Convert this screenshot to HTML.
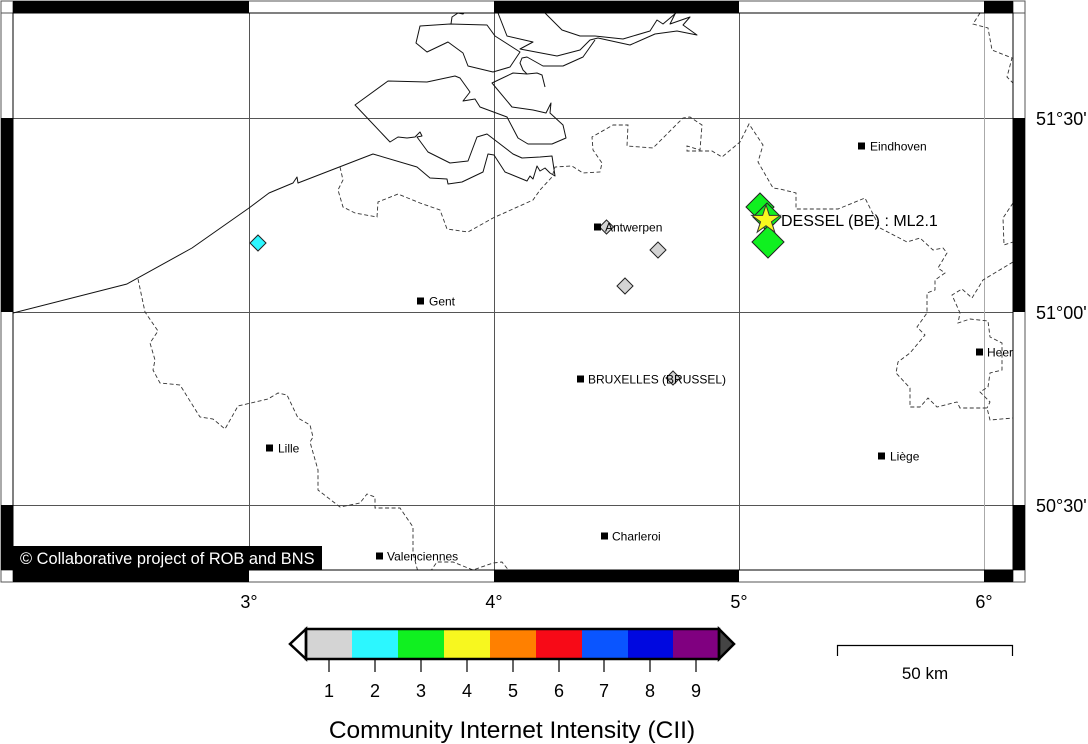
<!DOCTYPE html>
<html>
<head>
<meta charset="utf-8">
<style>
  html,body{margin:0;padding:0;background:#fff;}
  svg{display:block;}
  text{font-family:"Liberation Sans",Arial,sans-serif;}
</style>
</head>
<body>
<svg width="1088" height="744" viewBox="0 0 1088 744" xmlns="http://www.w3.org/2000/svg">
  <defs>
    <clipPath id="mapclip"><rect x="13" y="13" width="1000" height="557"/></clipPath>
  </defs>
  <rect x="0" y="0" width="1088" height="744" fill="#fff"/>

  <!-- map content -->
  <g clip-path="url(#mapclip)">
    <!-- grid -->
    <g stroke="#555" stroke-width="1" shape-rendering="crispEdges" fill="none">
      <line x1="249.5" y1="13" x2="249.5" y2="570"/>
      <line x1="494.5" y1="13" x2="494.5" y2="570"/>
      <line x1="739.5" y1="13" x2="739.5" y2="570"/>
      <line x1="13" y1="118.5" x2="1013" y2="118.5"/>
      <line x1="13" y1="312.5" x2="1013" y2="312.5"/>
      <line x1="13" y1="505.5" x2="1013" y2="505.5"/>
    </g>
    <line x1="984.5" y1="13" x2="984.5" y2="570" stroke="#aaa" stroke-width="1.2" shape-rendering="crispEdges"/>

    <!-- coastlines -->
    <g fill="none" stroke="#111" stroke-width="1" stroke-linejoin="round">
      <path d="M13,313 L127,284 L192,248 L249,208 L269,193 L293,183 L297,177 L298,183 L360,159 L373,154 L417,167 L430,178 L447,179 L448,184 L462,182 L483,172 L488,154 L494,155 L505,172 L527,181 L530,176 L533,179 L537,166 L540,171 L545,168 L550,173 L555,176 L552,156 L540,157 L522,158 L513,154 L487,134 L477,137 L468,161 L450,163 L428,152 L417,137 L422,136 L420,132 L415,137 L407,138 L398,137 L390,142 L355,105 L388,81 L427,82 L455,76 L460,78 L470,92 L463,101 L475,99 L480,107 L507,117 L518,138 L528,144 L552,144 L566,138 L563,125 L550,113 L551,103 L546,113 L533,110 L512,107 L492,83 L513,73 L527,74 L537,73 L542,75 L545,87"/>
      <path d="M420,26 L450,24 L487,25 L495,36 L520,52 L510,67 L493,72 L468,66 L463,53 L448,42 L427,52 L416,43 Z"/>
      <path d="M451,24 L452,17 L458,13 L463,14 L465,12"/>
      <path d="M545,13 L562,30 L580,36 L595,36 L623,39 L650,31 L657,20 L663,24 L676,13"/>
      <path d="M498,13 L507,36 L533,42 L520,49 L557,56 L580,50 L590,40 L598,38 L630,45 L655,34 L677,31 L697,35 L683,25 L690,17 L670,24 L675,14"/>
      <path d="M527,74 L523,70 L520,63 L522,58 L527,57 L543,66 L563,66 L583,57 L595,40"/>
    </g>

    <!-- borders (dashed) -->
    <g fill="none" stroke="#333" stroke-width="0.9" stroke-dasharray="4,2.5">
      <path d="M340,167 L343,180 L338,190 L343,207 L355,213 L377,217 L378,202 L398,194 L420,203 L440,210 L443,218 L447,229 L468,232 L493,218 L533,200 L540,190 L552,177 L555,167 L572,166 L583,173 L600,172 L602,163 L593,150 L592,137 L613,125 L628,125 L627,146 L653,148 L683,118 L690,117 L702,125 L700,150 L687,146 L687,151 L712,151 L722,157 L740,142 L749,124 L763,145 L758,162 L773,188 L780,189 L796,193 L796,209 L838,209 L865,198 L880,228 L907,242 L920,238 L933,250 L943,248 L947,253 L938,268 L945,273 L935,280 L935,290 L927,293 L927,313 L917,327 L925,335 L910,353 L898,362 L896,373 L910,388 L910,407 L920,407 L928,398 L937,407 L957,402 L960,408 L987,408 L990,420 L1013,418"/>
      <path d="M1013,262 L983,280 L972,298 L962,289 L952,295 L960,313 L958,323 L970,319 L988,321 L990,337 L1002,343 L1002,370 L990,373 L988,387 L980,392 L990,402 L987,408"/>
      <path d="M980,13 L973,24 L988,28 L992,50 L1012,58 L1007,77 L1013,83"/>
      <path d="M1013,203 L1003,218 L1004,245 L1013,242"/>
      <path d="M138,279 L145,312 L158,331 L150,343 L155,360 L153,370 L160,383 L180,385 L200,417 L213,419 L225,429 L238,406 L268,399 L278,393 L287,395 L298,418 L310,425 L313,437 L310,442 L318,470 L318,490 L340,507 L360,503 L367,494 L375,497 L375,508 L400,508 L413,527 L413,553 L418,572"/>
      <path d="M430,572 L437,562 L453,562 L473,570 L493,563 L502,562 L510,572"/>
    </g>

    <!-- intensity markers (under city labels) -->
    <g stroke="#222" stroke-width="1">
      <path d="M258,235 L266,243 L258,251 L250,243 Z" fill="#2cf7ff"/>
      <path d="M606.5,220 L613.5,227 L606.5,234 L599.5,227 Z" fill="#d4d4d4"/>
      <path d="M658,242 L666,250 L658,258 L650,250 Z" fill="#d4d4d4"/>
      <path d="M625,278 L633,286 L625,294 L617,286 Z" fill="#d4d4d4"/>
      <path d="M673,371 L680,378 L673,385 L666,378 Z" fill="#d4d4d4"/>
    </g>

    <!-- cities -->
    <g fill="#000" font-size="12">
      <rect x="858" y="142.5" width="7" height="7"/><text x="870" y="150.5">Eindhoven</text>
      <rect x="594" y="223.5" width="7" height="7"/><text x="605" y="231.5">Antwerpen</text>
      <rect x="417" y="297.5" width="7" height="7"/><text x="429" y="305.5">Gent</text>
      <rect x="577" y="375.5" width="7" height="7"/><text x="588" y="383.5">BRUXELLES (BRUSSEL)</text>
      <rect x="266" y="444.5" width="7" height="7"/><text x="278" y="452.5">Lille</text>
      <rect x="376" y="552.5" width="7" height="7"/><text x="387" y="560.5">Valenciennes</text>
      <rect x="601" y="532.5" width="7" height="7"/><text x="612" y="540.5">Charleroi</text>
      <rect x="878" y="452.5" width="7" height="7"/><text x="890" y="460.5">Liège</text>
      <rect x="976" y="348.5" width="7" height="7"/><text x="987" y="356.5">Heer</text>
    </g>

    <g stroke="#222" stroke-width="1" fill="#10f020">
      <path d="M760,193 L774,207 L760,221 L746,207 Z"/>
      <path d="M767,203 L781,217 L767,231 L753,217 Z"/>
      <path d="M768,226 L784,242 L768,258 L752,242 Z"/>
    </g>
    <path d="M766,205 L769.37,215.36 L780.27,215.36 L771.45,221.77 L774.82,232.14 L766,225.73 L757.18,232.14 L760.55,221.77 L751.73,215.36 L762.63,215.36 Z" fill="#f7f71f" stroke="#333" stroke-width="1"/>
    <text x="781" y="226" font-size="16" fill="#000">DESSEL (BE) : ML2.1</text>

    <!-- copyright -->
    <rect x="13" y="546" width="309" height="24" fill="#000"/>
    <text x="20" y="564" font-size="16.4" fill="#fff">© Collaborative project of ROB and BNS</text>
  </g>

  <!-- frame -->
  <g shape-rendering="crispEdges">
    <rect x="1" y="1" width="1024" height="12" fill="#fff" stroke="#555" stroke-width="1"/>
    <rect x="1" y="570" width="1024" height="12" fill="#fff" stroke="#555" stroke-width="1"/>
    <rect x="1" y="1" width="12" height="581" fill="#fff" stroke="#555" stroke-width="1"/>
    <rect x="1013" y="1" width="12" height="581" fill="#fff" stroke="#555" stroke-width="1"/>
    <rect x="1" y="1" width="12" height="12" fill="#fff" stroke="#555" stroke-width="1"/>
    <rect x="1013" y="1" width="12" height="12" fill="#fff" stroke="#555" stroke-width="1"/>
    <rect x="1" y="570" width="12" height="12" fill="#fff" stroke="#555" stroke-width="1"/>
    <rect x="1013" y="570" width="12" height="12" fill="#fff" stroke="#555" stroke-width="1"/>
    <g fill="#000">
      <rect x="13" y="1" width="236" height="12"/>
      <rect x="494" y="1" width="245" height="12"/>
      <rect x="984" y="1" width="29" height="12"/>
      <rect x="13" y="570" width="236" height="12"/>
      <rect x="494" y="570" width="245" height="12"/>
      <rect x="984" y="570" width="29" height="12"/>
      <rect x="1" y="118" width="12" height="194"/>
      <rect x="1" y="505" width="12" height="65"/>
      <rect x="1013" y="118" width="12" height="194"/>
      <rect x="1013" y="505" width="12" height="65"/>
    </g>
    <rect x="13" y="13" width="1000" height="557" fill="none" stroke="#000" stroke-width="1.2"/>
  </g>

  <!-- axis labels -->
  <g font-size="18" fill="#000">
    <text x="249" y="608" text-anchor="middle">3°</text>
    <text x="494" y="608" text-anchor="middle">4°</text>
    <text x="739" y="608" text-anchor="middle">5°</text>
    <text x="984" y="608" text-anchor="middle">6°</text>
    <text x="1036" y="125">51°30'</text>
    <text x="1036" y="319">51°00'</text>
    <text x="1036" y="512">50°30'</text>
  </g>

  <!-- colorbar -->
  <g shape-rendering="crispEdges">
    <rect x="306" y="629" width="46" height="30" fill="#d4d4d4"/>
    <rect x="352" y="629" width="46" height="30" fill="#2cf7ff"/>
    <rect x="398" y="629" width="46" height="30" fill="#10f020"/>
    <rect x="444" y="629" width="46" height="30" fill="#f7f71f"/>
    <rect x="490" y="629" width="46" height="30" fill="#ff8000"/>
    <rect x="536" y="629" width="46" height="30" fill="#f70a17"/>
    <rect x="582" y="629" width="46" height="30" fill="#0a55ff"/>
    <rect x="628" y="629" width="45" height="30" fill="#0008e0"/>
    <rect x="673" y="629" width="46" height="30" fill="#800080"/>
  </g>
  <path d="M306,629 L290,644 L306,659 Z" fill="#fff" stroke="#000" stroke-width="2.5" stroke-linejoin="miter"/>
  <path d="M719,629 L734,644 L719,659 Z" fill="#444" stroke="#000" stroke-width="2.5" stroke-linejoin="miter"/>
  <rect x="306" y="629" width="413" height="30" fill="none" stroke="#000" stroke-width="2.5"/>
  <g stroke="#000" stroke-width="1.2">
    <line x1="329" y1="660" x2="329" y2="672"/>
    <line x1="375" y1="660" x2="375" y2="672"/>
    <line x1="421" y1="660" x2="421" y2="672"/>
    <line x1="467" y1="660" x2="467" y2="672"/>
    <line x1="513" y1="660" x2="513" y2="672"/>
    <line x1="559" y1="660" x2="559" y2="672"/>
    <line x1="604" y1="660" x2="604" y2="672"/>
    <line x1="650" y1="660" x2="650" y2="672"/>
    <line x1="696" y1="660" x2="696" y2="672"/>
  </g>
  <g font-size="18" fill="#000" text-anchor="middle">
    <text x="329" y="697">1</text>
    <text x="375" y="697">2</text>
    <text x="421" y="697">3</text>
    <text x="467" y="697">4</text>
    <text x="513" y="697">5</text>
    <text x="559" y="697">6</text>
    <text x="604" y="697">7</text>
    <text x="650" y="697">8</text>
    <text x="696" y="697">9</text>
  </g>
  <text x="512" y="738" font-size="24.5" fill="#000" text-anchor="middle">Community Internet Intensity (CII)</text>

  <!-- scale bar -->
  <path d="M837.5,656 L837.5,645.5 L1012.5,645.5 L1012.5,656" fill="none" stroke="#000" stroke-width="1.2"/>
  <text x="925" y="679" font-size="17" fill="#000" text-anchor="middle">50 km</text>
</svg>
</body>
</html>
